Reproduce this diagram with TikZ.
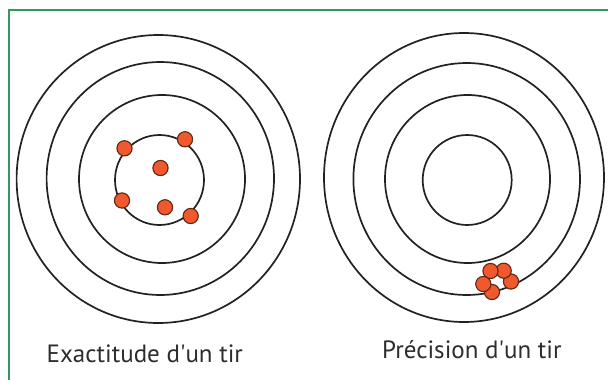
\documentclass[tikz,border=0pt]{standalone}
\usepackage{fontspec}
\setmainfont{PT Sans}
\definecolor{framegreen}{RGB}{52,150,98}
\definecolor{ringcol}{RGB}{34,34,34}
\definecolor{dotfill}{RGB}{240,88,45}
\definecolor{dotedge}{RGB}{95,40,22}
\definecolor{txt}{RGB}{45,45,45}
\begin{document}
\begin{tikzpicture}[x=1pt,y=-1pt,
  ring/.style={draw=ringcol,line width=1.7pt},
  shot/.style={fill=dotfill,draw=dotedge,line width=1.1pt},
  framebar/.style={fill=framegreen},
  label/.style={anchor=base west,inner sep=0pt,text=txt,font=\fontsize{25}{30}\selectfont}]
\useasboundingbox (0,0) rectangle (608,380);
\fill[white] (0,0) rectangle (608,380);
\fill[framebar] (8,8.5) rectangle (608,10.5);
\fill[framebar] (8,8.5) rectangle (10,380);
% left target
\draw[ring] (158.3,179) ellipse [x radius=141.7,y radius=144];
\draw[ring] (160.3,178.5) ellipse [x radius=113.7,y radius=116.5];
\draw[ring] (162,179) ellipse [x radius=83,y radius=84];
\draw[ring] (159.5,180) ellipse [x radius=44.5,y radius=45];
% right target
\draw[ring] (464,177.5) ellipse [x radius=140,y radius=144.5];
\draw[ring] (466.7,179) ellipse [x radius=113.3,y radius=116];
\draw[ring] (467.5,179) ellipse [x radius=82.5,y radius=84];
\draw[ring] (467.2,180) ellipse [x radius=44.5,y radius=45];
% shots left
\foreach \p in {(124.5,148.3),(185,139.3),(160.5,168),(122,200.5),(165,207.3),(190.7,216)}
  \draw[shot] \p circle (7.6);
% shots right
\foreach \p in {(511,281.5),(503.7,270.7),(490.5,271),(492,292),(483.3,284)}
  \draw[shot] \p circle (7.6);
\node[label] (lab1) at (46.5,362.5) {Exactitude d\textquotesingle un tir};
\node[label] (lab2) at (382,358) {Précision d\textquotesingle un tir};
\end{tikzpicture}
\end{document}
